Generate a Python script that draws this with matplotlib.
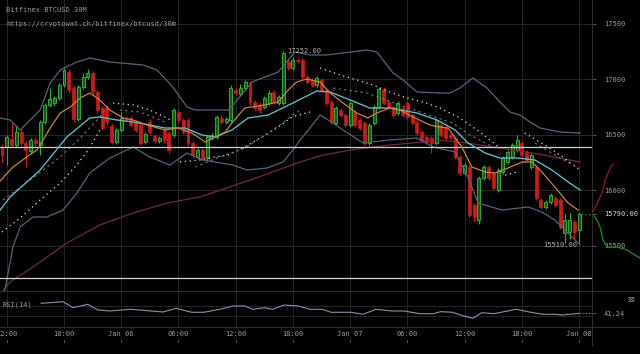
import numpy as np
import pandas as pd
import matplotlib
matplotlib.use("Agg")
import matplotlib.pyplot as plt
import matplotlib.transforms as mtransforms
from matplotlib.lines import Line2D

plt.rcParams['font.family'] = ['DejaVu Sans Mono', 'DejaVu Sans']

# --- candles (30m, Bitfinex BTCUSD), starting Jan 05 11:30 ---
times = pd.date_range('2018-01-05 11:30', periods=122, freq='30min')
opens = [16391, 16391, 16463, 16409, 16526, 16427, 16355, 16454, 16409, 16616,
         16769, 16787, 16832, 16949, 17066, 16922, 16643, 16931, 17021, 17057,
         16886, 16742, 16742, 16580, 16436, 16544, 16652, 16652, 16616, 16589,
         16436, 16616, 16490, 16445, 16544, 16517, 16499, 16706, 16634, 16634,
         16427, 16301, 16364, 16292, 16472, 16481, 16652, 16616, 16634, 16904,
         16868, 16922, 16967, 16796, 16769, 16751, 16787, 16886, 16787, 16787,
         17156, 17102, 17174, 17174, 17021, 16994, 16949, 16994, 16904, 16796,
         16607, 16724, 16679, 16589, 16706, 16634, 16607, 16427, 16607, 16751,
         16913, 16796, 16751, 16697, 16742, 16787, 16679, 16616, 16526, 16481,
         16472, 16427, 16589, 16562, 16499, 16472, 16301, 16157, 16211, 15869,
         15734, 16112, 16211, 16157, 16004, 16166, 16256, 16301, 16364, 16427,
         16346, 16211, 16211, 15914, 15851, 15896, 15932, 15914, 15617, 15626,
         15716, 15644]
closes = [16319, 16481, 16409, 16526, 16427, 16364, 16454, 16427, 16616, 16769,
          16823, 16832, 16949, 17084, 16904, 16643, 16931, 17021, 17057, 16886,
          16724, 16562, 16616, 16436, 16544, 16652, 16634, 16589, 16544, 16427,
          16508, 16526, 16445, 16472, 16454, 16364, 16724, 16634, 16526, 16427,
          16319, 16364, 16292, 16481, 16499, 16661, 16616, 16643, 16922, 16877,
          16922, 16976, 16796, 16742, 16724, 16832, 16877, 16796, 16841, 17237,
          17102, 17174, 17165, 17021, 16976, 16949, 17012, 16904, 16787, 16616,
          16742, 16679, 16589, 16787, 16589, 16562, 16427, 16589, 16751, 16913,
          16787, 16751, 16679, 16787, 16679, 16661, 16607, 16517, 16454, 16436,
          16427, 16634, 16499, 16472, 16481, 16301, 16157, 16229, 15779, 15761,
          16112, 16211, 16112, 16022, 16184, 16292, 16346, 16409, 16454, 16319,
          16274, 16319, 15932, 15851, 15896, 15959, 15869, 15671, 15734, 15734,
          15626, 15790]
highs = [16420, 16500, 16616, 16590, 16550, 16445, 16475, 16470, 16630, 16790,
         16922, 16850, 16965, 17111, 17095, 16940, 16950, 17057, 17090, 17075,
         16900, 16760, 16770, 16600, 16560, 16706, 16670, 16670, 16635, 16605,
         16525, 16640, 16510, 16490, 16560, 16535, 16745, 16725, 16655, 16650,
         16445, 16385, 16380, 16500, 16520, 16680, 16675, 16665, 16945, 16925,
         16960, 16995, 16985, 16815, 16790, 16850, 16900, 16905, 16860, 17252,
         17180, 17200, 17190, 17195, 17040, 17015, 17030, 17010, 16920, 16815,
         16760, 16745, 16700, 16805, 16725, 16655, 16625, 16610, 16770, 16935,
         16930, 16815, 16770, 16805, 16760, 16805, 16700, 16635, 16545, 16500,
         16490, 16655, 16610, 16580, 16515, 16490, 16320, 16250, 16230, 15890,
         16130, 16230, 16230, 16175, 16205, 16310, 16365, 16430, 16499, 16445,
         16365, 16340, 16230, 15935, 15915, 15980, 15950, 15935, 15790, 15800,
         15735, 15810]
lows = [16250, 16229, 16390, 16390, 16400, 16211, 16330, 16400, 16319, 16600,
        16750, 16760, 16815, 16930, 16880, 16620, 16625, 16910, 17000, 16860,
        16700, 16540, 16590, 16420, 16420, 16530, 16615, 16570, 16525, 16405,
        16420, 16505, 16425, 16425, 16430, 16340, 16480, 16615, 16505, 16400,
        16295, 16280, 16270, 16265, 16455, 16465, 16595, 16600, 16615, 16855,
        16850, 16900, 16770, 16720, 16700, 16730, 16770, 16775, 16770, 16770,
        17080, 17085, 17150, 17000, 16955, 16930, 16930, 16885, 16765, 16595,
        16590, 16660, 16570, 16570, 16570, 16540, 16405, 16410, 16590, 16735,
        16765, 16730, 16660, 16680, 16660, 16640, 16585, 16495, 16435, 16415,
        16340, 16410, 16480, 16455, 16460, 16280, 16135, 16140, 15760, 15720,
        15700, 16095, 16095, 16000, 15985, 16150, 16240, 16285, 16345, 16300,
        16255, 16195, 15910, 15830, 15830, 15880, 15850, 15650, 15530, 15560,
        15560, 15510]

# --- indicator lines (candle index, price) ---
ema_x = [-0.4, 2.3, 5.2, 7.3, 8.6, 10.1, 12.2, 14.3, 16.4, 18.4, 20.5, 22.6, 25.4, 27.5,
         30.4, 34.2, 36.9, 39.8, 42.6, 44.7, 46.8, 48.2, 50.9, 55.1, 57.9, 60, 61.8, 63.9,
         66.7, 68.8, 71.5, 74.4, 76.7, 78.6, 81.3, 83.4, 86.2, 89.7, 91.8, 93.5, 96.4,
         98.5, 101.3, 103.4, 106.1, 109, 111.1, 113.2, 115.9, 118.7, 120.8]
ema_y = [16085, 16211, 16301, 16364, 16454, 16562, 16697, 16751, 16832, 16877, 16814,
         16724, 16652, 16634, 16589, 16544, 16562, 16517, 16436, 16481, 16526, 16607,
         16742, 16769, 16796, 16904, 16976, 17003, 16976, 16877, 16787, 16697, 16652,
         16697, 16742, 16724, 16661, 16589, 16571, 16562, 16391, 16211, 16166, 16157,
         16202, 16256, 16256, 16166, 16031, 15887, 15824]
mid_x = [-0.4, 1.7, 8, 13.6, 18.4, 20.5, 24.1, 27.5, 31, 34.2, 38.4, 41.9, 44.7, 48.2,
         51.6, 55.8, 59.3, 61.4, 66, 68.8, 73, 77.1, 81.3, 87, 91.2, 95, 97.7, 101.3,
         104.4, 108.2, 111.7, 115.3, 118.7, 121.2]
mid_y = [15824, 15941, 16184, 16481, 16652, 16661, 16634, 16616, 16589, 16562, 16562,
         16499, 16481, 16544, 16652, 16679, 16751, 16796, 16895, 16886, 16814, 16742,
         16742, 16697, 16634, 16544, 16427, 16337, 16292, 16292, 16274, 16184, 16076, 16004]
bb_up_x = [-0.4, 1.7, 3.8, 8, 10.1, 12.2, 15.7, 18.4, 22.6, 29.6, 32.5, 35.8, 38.8, 40.5,
           47.4, 48.8, 52.4, 57.9, 61.4, 64.6, 68.1, 76.5, 78.6, 82, 84.1, 87, 91.8, 93.9,
           96, 98.7, 101.7, 104.4, 106.5, 108.6, 110.7, 112.8, 117, 121.2]
bb_up_y = [16652, 16634, 16544, 16724, 16967, 17084, 17156, 17192, 17156, 17129, 17084,
           16931, 16751, 16724, 16724, 16787, 16976, 17066, 17246, 17219, 17219, 17264,
           17246, 17057, 16994, 16886, 16877, 16877, 16922, 17012, 16922, 16796, 16706,
           16679, 16616, 16562, 16526, 16517]
bb_lo_x = [0, 1, 2.3, 3.8, 6.5, 9.4, 12.8, 15.7, 18.4, 22.6, 27.5, 31, 35.2, 38.8, 42.1,
           48.4, 51.4, 55.6, 58.9, 61, 62.5, 63.9, 66.7, 69.4, 71.5, 75.7, 81.3, 87, 90.4,
           95, 97.7, 99.8, 104.8, 110.3, 113.2, 115.9, 120.8]
bb_lo_y = [14969, 15194, 15491, 15671, 15761, 15761, 15824, 15977, 16157, 16292, 16391,
           16301, 16229, 16337, 16274, 16229, 16184, 16202, 16256, 16364, 16454, 16526,
           16679, 16607, 16544, 16427, 16454, 16472, 16391, 16346, 16121, 15887, 15824,
           15851, 15806, 15734, 15527]
long_ma_x = [-0.4, 1.3, 2.3, 6.5, 13.6, 20.5, 27.5, 34.6, 41.5, 52, 62.5, 67.3, 74.4,
             81.3, 88.3, 91.8, 97.5, 104.4, 111.3, 121.2]
long_ma_y = [15059, 15158, 15194, 15311, 15527, 15689, 15797, 15887, 15941, 16094, 16256,
             16319, 16373, 16409, 16436, 16454, 16427, 16382, 16337, 16256]

# parabolic-SAR style dotted runs
sar_white = [
    [(0, 15626), (3.8, 15752), (8, 15914), (12.2, 16067), (15.7, 16229), (18.4, 16382), (20.5, 16544)],
    [(23.3, 16787), (27.5, 16769), (31, 16724), (34.6, 16652), (35.6, 16625)],
    [(37.3, 16256), (41.5, 16274), (44.7, 16301), (47.4, 16319), (50.9, 16391), (54.5, 16481),
     (57.9, 16571), (60.8, 16661), (64.6, 16706)],
    [(66.7, 17102), (70.9, 17039), (74.4, 16994), (77.8, 16949), (81.3, 16886), (84.9, 16832),
     (88.3, 16796), (91.8, 16742), (96, 16652), (100.2, 16526), (104.4, 16382)],
    [(105.5, 16139), (108, 16166)],
    [(109.6, 16517), (113.8, 16409), (117, 16319), (121.2, 16184)],
]
sar_gray = [
    [(0.2, 15914), (5.9, 16094), (12.2, 16301), (16.4, 16472), (20.5, 16661), (22.6, 16787)],
    [(24.7, 16724), (28.9, 16706), (34.2, 16616)],
    [(40.5, 16211), (45.1, 16292), (50.9, 16382), (56.2, 16526), (62.5, 16724)],
    [(69.4, 16922), (76.5, 16877), (83.4, 16769), (94.5, 16607), (98.1, 16499), (103.4, 16382)],
    [(111.7, 16427), (117, 16292), (120.8, 16202)],
]

level_lines = [16391, 15212]
price_ticks = [15500, 16000, 16500, 17000, 17500]
last_price = 15790
high_label = 17252
low_label = 15510

# RSI(14)
rsi_x = [8.2, 12.8, 14.9, 18, 20.1, 22.6, 27, 33.8, 36.5, 39.8, 42.3, 45.7, 48.4, 50.9,
         52.6, 55.1, 56.8, 59.1, 62.1, 64.6, 67.1, 69, 73.2, 75.7, 78.4, 81.8, 84.3, 87.6,
         90.4, 92, 94.5, 96.6, 98.7, 100.6, 103.1, 105.7, 107.8, 110.9, 113.4, 115.9,
         117.6, 121]
rsi_y = [78.5, 84.4, 62.2, 74.8, 53.7, 50, 56.3, 46.3, 60, 45.2, 45.2, 56.3, 68.5, 68.5,
         56.3, 62.2, 56.3, 72.2, 68.5, 56.3, 56.3, 45.2, 45.2, 37.8, 56.3, 50, 50, 40, 40,
         47.4, 45.2, 32.6, 23, 43.7, 40, 48.9, 56.3, 45.2, 37.8, 37.8, 35.2, 41.24]

# order book depth (cumulative volume, price)
ask_vol = [0, 50, 80, 110, 130, 160, 180, 210]
ask_price = [15790, 15880, 15941, 16004, 16094, 16157, 16202, 16240]
bid_vol = [0, 50, 80, 110, 150, 250, 350, 380, 480]
bid_price = [15790, 15734, 15671, 15554, 15491, 15491, 15464, 15446, 15392]

BG = '#000000'
GRID = '#242424'
TXT = '#9a9a9a'
GREEN = '#2fae2f'
GREEN_FILL = '#145a14'
RED = '#d01a1a'
FS = 5

W, H = 640, 354
fig = plt.figure(figsize=(6.4, 3.54), dpi=100, facecolor=BG)
ax = fig.add_axes([0, (H - 291) / H, 592 / W, 291 / H], facecolor=BG)
ax_rsi = fig.add_axes([0, (H - 327) / H, 592 / W, 36 / H], facecolor=BG)

xlim = (-0.42, 123.7)
idx = np.arange(len(closes))
o = np.array(opens, float); c = np.array(closes, float)
hi = np.array(highs, float); lo = np.array(lows, float)
up = c >= o

tick_idx = [i for i, t in enumerate(times) if t.minute == 0 and t.hour % 6 == 0]
tick_lbl = [t.strftime('%b %d') if t.hour == 0 else t.strftime('%H:%M') for t in times[tick_idx]]

# main panel
for xi in tick_idx:
    ax.axvline(xi, color=GRID, lw=0.8, zorder=0)
for p in price_ticks:
    ax.axhline(p, color=GRID, lw=0.8, zorder=0)

ax.vlines(idx[up], lo[up], hi[up], color=GREEN, lw=0.8, zorder=2)
ax.vlines(idx[~up], lo[~up], hi[~up], color=RED, lw=0.8, zorder=2)
body_lo = np.minimum(o, c)
body_h = np.maximum(np.abs(c - o), 8)
ax.bar(idx[up], body_h[up], bottom=body_lo[up], width=0.62, color=GREEN_FILL,
       edgecolor=GREEN, lw=0.7, zorder=2)
ax.bar(idx[~up], body_h[~up], bottom=body_lo[~up], width=0.62, color=RED,
       edgecolor=RED, lw=0.5, zorder=2)

ax.plot(long_ma_x, long_ma_y, color='#6e2a42', lw=0.9, zorder=3)
ax.plot(bb_up_x, bb_up_y, color='#56627a', lw=0.9, zorder=3)
ax.plot(bb_lo_x, bb_lo_y, color='#56627a', lw=0.9, zorder=3)
ax.plot(mid_x, mid_y, color='#5fb9c2', lw=1.0, zorder=4)
ax.plot(ema_x, ema_y, color='#c7843f', lw=0.9, zorder=4)
for seg in sar_white:
    sx, sy = zip(*seg)
    ax.plot(sx, sy, color='#d0d0d0', lw=1.0, dashes=(0.9, 2.6), zorder=3)
for seg in sar_gray:
    sx, sy = zip(*seg)
    ax.plot(sx, sy, color='#6a7282', lw=0.8, dashes=(2.2, 2.8), zorder=3)

for lv in level_lines:
    ax.axhline(lv, color='#cfcfcf', lw=0.9, zorder=3)

ax.plot([121.4, xlim[1]], [last_price, last_price], color='#3a9a3a', lw=0.9,
        dashes=(1, 2), zorder=3)
ax.text(59.8, high_label, f'{high_label:.2f}', color='#b0b0b0', fontsize=FS,
        ha='left', va='center', zorder=5)
ax.text(120.6, low_label, f'{low_label:.2f}', color='#b0b0b0', fontsize=FS,
        ha='right', va='center', zorder=5)

ax.set_xlim(*xlim)
ax.set_ylim(15095, 17714)
ax.set_xticks([])
ax.yaxis.tick_right()
ax.set_yticks(price_ticks)
ax.set_yticklabels([str(p) for p in price_ticks])
ax.tick_params(axis='y', length=3, width=0.7, color='#555555', pad=5.5,
               labelsize=FS, labelcolor=TXT)
for s in ax.spines.values():
    s.set_visible(False)
trans = mtransforms.blended_transform_factory(ax.transAxes, ax.transData)
ax.plot([1.0, 1.006], [last_price, last_price], transform=trans, color='#555555',
        lw=0.7, clip_on=False)
ax.text(604 / 592, last_price, f'{last_price:.2f}', transform=trans, color='#d6d6d6',
        fontsize=FS, ha='left', va='center')

# order book depth beside the price axis
dax = fig.add_axes([592 / W, (H - 291) / H, 48 / W, 291 / H], facecolor='none')
dax.plot(ask_vol, ask_price, color='#8e1c1c', lw=0.9)
dax.plot(bid_vol, bid_price, color='#1f8c1f', lw=0.9)
dax.set_xlim(0, 480)
dax.set_ylim(ax.get_ylim())
dax.axis('off')

# RSI panel
for xi in tick_idx:
    ax_rsi.axvline(xi, color=GRID, lw=0.8, zorder=0)
for lv in (70, 30):
    ax_rsi.axhline(lv, color=GRID, lw=0.8, zorder=0)
ax_rsi.plot(rsi_x, rsi_y, color='#8595ad', lw=0.8)
ax_rsi.plot([121.2, xlim[1]], [rsi_y[-1], rsi_y[-1]], color='#8595ad', lw=0.8, dashes=(1, 1.5))
ax_rsi.set_xlim(*xlim)
ax_rsi.set_ylim(-9.3, 124)
ax_rsi.set_xticks(tick_idx)
ax_rsi.set_xticklabels(tick_lbl)
ax_rsi.tick_params(axis='x', length=0, pad=3.2, labelsize=FS, labelcolor=TXT)
ax_rsi.yaxis.tick_right()
ax_rsi.set_yticks([rsi_y[-1]])
ax_rsi.set_yticklabels([f'{rsi_y[-1]:.2f}'])
ax_rsi.tick_params(axis='y', length=3, width=0.7, color='#555555', pad=5.5,
                   labelsize=FS, labelcolor=TXT)
for s in ax_rsi.spines.values():
    s.set_visible(False)
ax_rsi.text(0.004, 0.61, 'RSI(14)', transform=ax_rsi.transAxes, color=TXT,
            fontsize=FS, ha='left', va='center')
tr_rsi = mtransforms.blended_transform_factory(ax_rsi.transData, ax_rsi.transAxes)
ax_rsi.plot(tick_idx, [-0.40] * len(tick_idx), transform=tr_rsi, ls='none', marker='|',
            ms=1.6, mew=0.7, color='#777777', clip_on=False)

# panel separators and right border
for yp in (291, 327):
    fig.add_artist(Line2D([0, 1], [1 - yp / H, 1 - yp / H], transform=fig.transFigure,
                          color='#2e2e2e', lw=0.8))
fig.add_artist(Line2D([592 / W, 592 / W], [1 - 346 / H, 1], transform=fig.transFigure,
                      color='#2e2e2e', lw=0.8))

fig.text(631 / W, 1 - 300 / H, '\u22a0', color='#8a8a8a', fontsize=6, ha='center',
         va='center', family=['DejaVu Sans'])
fig.text(6 / W, 1 - 10 / H, 'Bitfinex BTCUSD 30M', color=TXT, fontsize=FS,
         ha='left', va='center')
fig.text(6 / W, 1 - 24 / H, 'https://cryptowat.ch/bitfinex/btcusd/30m', color=TXT,
         fontsize=FS, ha='left', va='center')

fig.savefig('out.png', dpi=100, facecolor=BG)
